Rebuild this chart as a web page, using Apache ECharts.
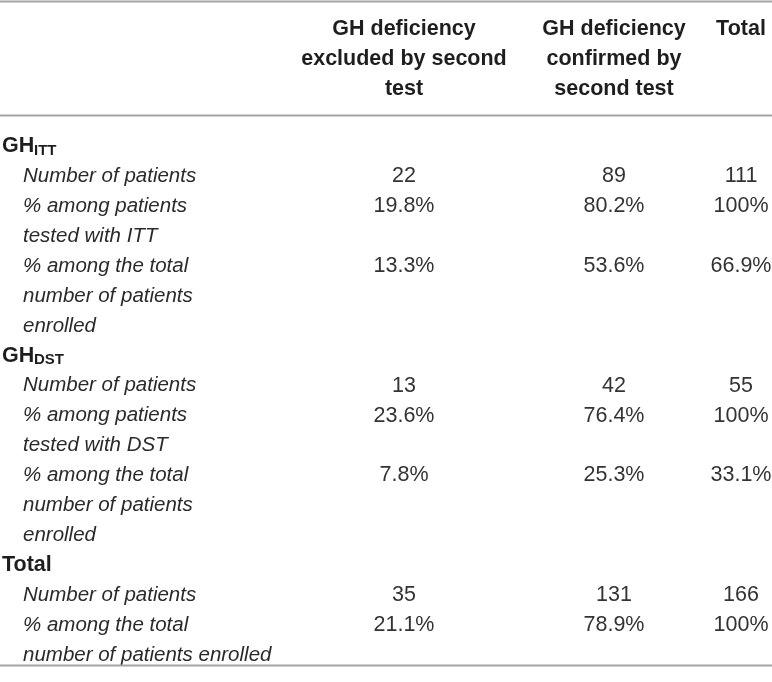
<!DOCTYPE html>
<html>
<head>
<meta charset="utf-8">
<script src="https://cdn.jsdelivr.net/npm/echarts@6/dist/echarts.min.js"></script>
<style>
  html, body { margin: 0; padding: 0; background: #fff; }
  #table { width: 772px; height: 682px; }
</style>
</head>
<body>
<div id="table"></div>
<script>
// column headings
var colHeaders = [
    'GH deficiency\nexcluded by second\ntest',
    'GH deficiency\nconfirmed by\nsecond test',
    'Total'
];

// group headings (name + subscript)
var groupNames = ['GH', 'GH', 'Total'];
var groupSubs = ['ITT', 'DST', ''];

// row labels per group
var ittLabels = ['Number of patients', '% among patients\ntested with ITT', '% among the total\nnumber of patients\nenrolled'];
var dstLabels = ['Number of patients', '% among patients\ntested with DST', '% among the total\nnumber of patients\nenrolled'];
var totalLabels = ['Number of patients', '% among the total\nnumber of patients enrolled'];

// cell values per group
var ittValues = [['22', '89', '111'], ['19.8%', '80.2%', '100%'], ['13.3%', '53.6%', '66.9%']];
var dstValues = [['13', '42', '55'], ['23.6%', '76.4%', '100%'], ['7.8%', '25.3%', '33.1%']];
var totalValues = [['35', '131', '166'], ['21.1%', '78.9%', '100%']];

var groupLabels = [ittLabels, dstLabels, totalLabels];
var groupValues = [ittValues, dstValues, totalValues];

// layout
var colX = [404, 614, 741];
var lineStep = 29.9;
var headerTop = 29;
var bodyTop = 146.5;
var fontFam = '"Liberation Sans", Arial, Helvetica, sans-serif';
var ruleColor = '#a3a3a3';

var els = [];

function txt(s, x, y, opt) {
    els.push({
        type: 'text',
        silent: true,
        style: {
            text: s,
            x: x,
            y: y,
            align: opt.align || 'left',
            verticalAlign: 'middle',
            fontSize: opt.size || 21.5,
            fontWeight: opt.bold ? 'bold' : 'normal',
            fontStyle: opt.italic ? 'italic' : 'normal',
            fontFamily: fontFam,
            fill: opt.color || '#2a2a2a'
        }
    });
}

function rule(y) {
    els.push({
        type: 'line',
        silent: true,
        shape: { x1: 0, y1: y, x2: 772, y2: y },
        style: { stroke: ruleColor, lineWidth: 2 }
    });
}

// header
colHeaders.forEach(function (h, c) {
    h.split('\n').forEach(function (line, k) {
        txt(line, colX[c], headerTop + k * 30, { align: 'center', bold: true, color: '#1e1e1e' });
    });
});

// body
var line = 0;
groupNames.forEach(function (g, gi) {
    var y = bodyTop + line * lineStep;
    txt(g, 2, y, { bold: true, color: '#1e1e1e' });
    if (groupSubs[gi]) {
        txt(groupSubs[gi], 34, y + 4, { bold: true, size: 15, color: '#1e1e1e' });
    }
    line++;
    groupLabels[gi].forEach(function (lab, ri) {
        var rowY = bodyTop + line * lineStep;
        groupValues[gi][ri].forEach(function (v, c) {
            txt(v, colX[c], rowY, { align: 'center', color: '#333' });
        });
        lab.split('\n').forEach(function (l) {
            txt(l, 23, bodyTop + line * lineStep, { italic: true, size: 20.5, color: '#2a2a2a' });
            line++;
        });
    });
});

rule(1.5);
rule(115.5);
rule(665.5);

var myChart = echarts.init(document.getElementById('table'));
myChart.setOption({
    backgroundColor: '#fff',
    animation: false,
    graphic: { elements: els }
});
</script>
</body>
</html>
